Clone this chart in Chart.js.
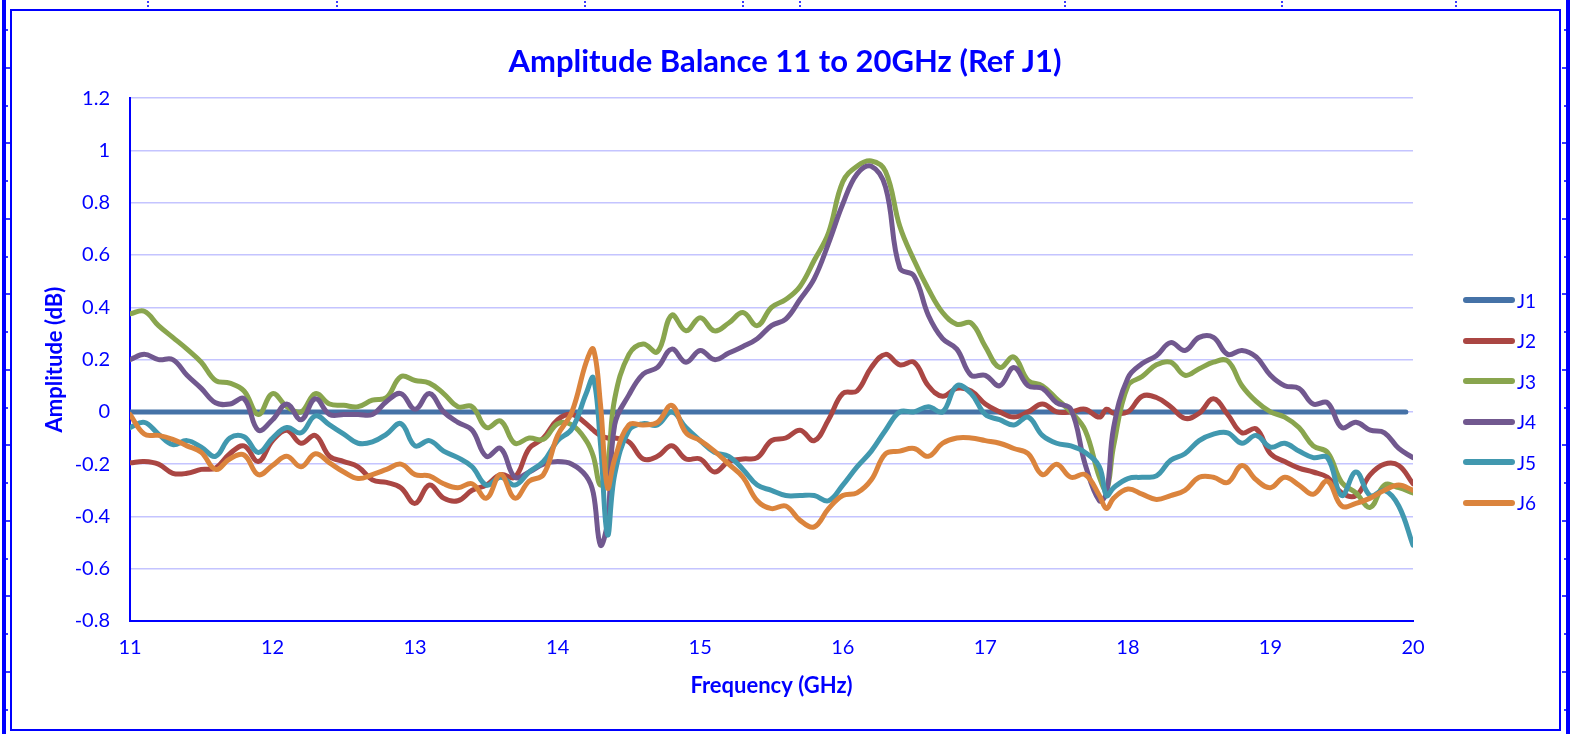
<!DOCTYPE html>
<html>
<head>
<meta charset="utf-8">
<script src="https://cdn.jsdelivr.net/npm/chart.js@4.4.1/dist/chart.umd.min.js"></script>
<style>
body { margin: 0; background: #fff; }
#wrap { position: relative; width: 1570px; height: 734px; overflow: hidden; background: #fff; }
#container { position: absolute; left: 0; top: 0; }
.fr { position: absolute; background: #0000ff; }
.dot { position: absolute; background: #3a3aff; }
#legend { position: absolute; left: 1463px; top: 290px; font-family: Lato; font-size: 19px; color: #0000ff; }
.item { height: 20px; margin-bottom: 20.6px; display: flex; align-items: center; }
.bar { width: 52px; height: 6px; border-radius: 3px; margin-right: 2px; }
</style>
</head>
<body>
<div id="wrap">
<canvas id="container" width="1570" height="734"></canvas>
<div class="fr" style="left:2px;top:0;width:4px;height:734px"></div>
<div class="fr" style="left:10px;top:9px;width:2px;height:722px"></div>
<div class="fr" style="left:10px;top:9px;width:1551px;height:2px"></div>
<div class="fr" style="left:1559px;top:9px;width:2px;height:722px"></div>
<div class="fr" style="left:10px;top:729px;width:1551px;height:2px"></div>
<div class="fr" style="left:1566px;top:0;width:4px;height:734px"></div>
<div id="legend"></div>
</div>
<script>
// frequency points (GHz), shared by J2..J6
var freq = [11, 11.1, 11.2, 11.3, 11.4, 11.5, 11.6, 11.7, 11.8, 11.9,
  12, 12.1, 12.2, 12.3, 12.4, 12.5, 12.6, 12.7, 12.8, 12.9,
  13, 13.1, 13.2, 13.3, 13.4, 13.5, 13.6, 13.7, 13.8, 13.9,
  14, 14.1, 14.2, 14.25, 14.3, 14.35, 14.4, 14.5, 14.6, 14.7, 14.8, 14.9,
  15, 15.1, 15.2, 15.3, 15.4, 15.5, 15.6, 15.7, 15.8, 15.9,
  16, 16.1, 16.2, 16.3, 16.4, 16.5, 16.6, 16.7, 16.8, 16.9,
  17, 17.1, 17.2, 17.3, 17.4, 17.5, 17.6, 17.7, 17.8, 17.85, 17.9,
  18, 18.1, 18.2, 18.3, 18.4, 18.5, 18.6, 18.7, 18.8, 18.9,
  19, 19.1, 19.2, 19.3, 19.4, 19.5, 19.6, 19.7, 19.8, 19.9,
  20];

var j1Freq = [11, 19.95];
var j1 = [0, 0];

var j2 = [-0.195, -0.19, -0.20, -0.235, -0.235, -0.22, -0.215, -0.16, -0.13, -0.19,
  -0.11, -0.07, -0.12, -0.09, -0.17, -0.19, -0.21, -0.26, -0.27, -0.29,
  -0.35, -0.28, -0.33, -0.34, -0.30, -0.28, -0.24, -0.25, -0.14, -0.10,
  -0.03, -0.01, -0.045, -0.07, -0.09, -0.10, -0.10, -0.115, -0.18, -0.17, -0.13, -0.18,
  -0.18, -0.23, -0.19, -0.18, -0.175, -0.11, -0.10, -0.07, -0.11, -0.03,
  0.07, 0.08, 0.17, 0.22, 0.18, 0.19, 0.10, 0.06, 0.09, 0.08,
  0.03, 0.0, -0.02, 0.0, 0.03, 0.0, 0.0, 0.01, -0.02, 0.01, -0.005,
  0.0, 0.06, 0.055, 0.02, -0.025, -0.005, 0.05, -0.01, -0.08, -0.065,
  -0.16, -0.19, -0.215, -0.23, -0.25, -0.31, -0.32, -0.24, -0.20, -0.205,
  -0.275];

var j3 = [0.375, 0.385, 0.33, 0.285, 0.24, 0.19, 0.12, 0.11, 0.08, -0.01,
  0.07, 0.02, 0.0, 0.07, 0.03, 0.025, 0.02, 0.045, 0.055, 0.135,
  0.12, 0.11, 0.07, 0.02, 0.02, -0.06, -0.035, -0.12, -0.10, -0.105,
  -0.045, -0.05, -0.11, -0.17, -0.28, -0.20, 0.05, 0.22, 0.26, 0.23, 0.37, 0.31,
  0.36, 0.31, 0.34, 0.38, 0.33, 0.40, 0.43, 0.48, 0.58, 0.685,
  0.88, 0.94, 0.96, 0.92, 0.71, 0.58, 0.47, 0.38, 0.335, 0.34,
  0.25, 0.17, 0.21, 0.12, 0.10, 0.05, 0.0, -0.07, -0.25, -0.30, -0.13,
  0.10, 0.135, 0.18, 0.19, 0.14, 0.165, 0.19, 0.195, 0.10, 0.04,
  0.0, -0.02, -0.06, -0.13, -0.155, -0.27, -0.31, -0.365, -0.28, -0.29,
  -0.31];

var j4 = [0.20, 0.22, 0.20, 0.20, 0.14, 0.09, 0.035, 0.03, 0.05, -0.07,
  -0.03, 0.03, -0.03, 0.05, -0.01, -0.01, -0.01, -0.01, 0.04, 0.07,
  0.01, 0.07, 0.0, -0.04, -0.07, -0.17, -0.14, -0.25, -0.23, -0.20,
  -0.19, -0.20, -0.245, -0.31, -0.51, -0.42, -0.05, 0.065, 0.145, 0.17, 0.24, 0.19,
  0.235, 0.20, 0.225, 0.25, 0.28, 0.33, 0.355, 0.43, 0.51, 0.645,
  0.795, 0.91, 0.94, 0.86, 0.55, 0.52, 0.37, 0.28, 0.24, 0.14,
  0.14, 0.10, 0.17, 0.10, 0.09, 0.035, 0.01, -0.20, -0.34, -0.31, -0.06,
  0.13, 0.185, 0.215, 0.265, 0.235, 0.285, 0.285, 0.22, 0.235, 0.21,
  0.14, 0.10, 0.09, 0.03, 0.035, -0.06, -0.04, -0.07, -0.08, -0.14,
  -0.175];

var j5 = [-0.06, -0.04, -0.085, -0.125, -0.11, -0.135, -0.17, -0.10, -0.095, -0.155,
  -0.10, -0.06, -0.08, -0.015, -0.05, -0.085, -0.12, -0.115, -0.085, -0.045,
  -0.13, -0.11, -0.15, -0.175, -0.21, -0.28, -0.25, -0.28, -0.23, -0.19,
  -0.11, -0.065, 0.07, 0.13, -0.12, -0.47, -0.24, -0.07, -0.045, -0.05, 0.0, -0.06,
  -0.11, -0.155, -0.17, -0.22, -0.28, -0.30, -0.32, -0.32, -0.32, -0.34,
  -0.28, -0.21, -0.15, -0.07, 0.0, 0.0, 0.02, 0.0, 0.10, 0.07,
  -0.01, -0.03, -0.05, -0.02, -0.09, -0.12, -0.13, -0.155, -0.21, -0.32, -0.29,
  -0.255, -0.25, -0.245, -0.185, -0.16, -0.11, -0.085, -0.08, -0.12, -0.09,
  -0.135, -0.12, -0.15, -0.175, -0.175, -0.32, -0.23, -0.32, -0.30, -0.36,
  -0.51];

var j6 = [-0.01, -0.085, -0.09, -0.105, -0.13, -0.155, -0.22, -0.18, -0.165, -0.24,
  -0.205, -0.17, -0.21, -0.16, -0.195, -0.23, -0.255, -0.24, -0.22, -0.20,
  -0.24, -0.245, -0.275, -0.29, -0.275, -0.33, -0.24, -0.33, -0.265, -0.24,
  -0.09, 0.0, 0.19, 0.24, 0.03, -0.29, -0.18, -0.05, -0.05, -0.04, 0.025, -0.08,
  -0.11, -0.15, -0.20, -0.25, -0.34, -0.37, -0.36, -0.415, -0.44, -0.37,
  -0.32, -0.31, -0.26, -0.16, -0.15, -0.14, -0.17, -0.12, -0.10, -0.10,
  -0.11, -0.12, -0.14, -0.16, -0.24, -0.20, -0.25, -0.24, -0.32, -0.37, -0.33,
  -0.295, -0.315, -0.335, -0.32, -0.30, -0.25, -0.25, -0.27, -0.205, -0.26,
  -0.29, -0.25, -0.28, -0.315, -0.265, -0.36, -0.35, -0.33, -0.30, -0.28,
  -0.30];

var xTicks = [11, 12, 13, 14, 15, 16, 17, 18, 19, 20];
var yTicks = [-0.8, -0.6, -0.4, -0.2, 0, 0.2, 0.4, 0.6, 0.8, 1, 1.2];

var names = ['J1', 'J2', 'J3', 'J4', 'J5', 'J6'];
var colors = ['#4572a7', '#aa4643', '#89a54e', '#71588f', '#4198af', '#db843d'];
var blue = '#0000ff';

function pts(xs, ys) {
  return xs.map(function(x, i) { return {x: x, y: ys[i]}; });
}

var series = [pts(j1Freq, j1), pts(freq, j2), pts(freq, j3), pts(freq, j4), pts(freq, j5), pts(freq, j6)];

var datasets = series.map(function(d, i) {
  return {
    label: names[i],
    data: d,
    borderColor: colors[i],
    backgroundColor: colors[i],
    order: 6 - i
  };
});

// little ruler marks on the frame
var wrap = document.getElementById('wrap');
function mark(x, y, w, h) {
  var m = document.createElement('div');
  m.className = 'dot';
  m.style.left = x + 'px'; m.style.top = y + 'px';
  m.style.width = w + 'px'; m.style.height = h + 'px';
  wrap.appendChild(m);
}
var topMarks = [148, 337, 585, 743, 800, 1065, 1282, 1456];
topMarks.forEach(function(x) { mark(x - 1, 1, 2, 2); mark(x - 1, 5, 2, 2); });
for (var k = 0; k < 19; k++) {
  var yy = Math.round(29 + k * 37.75);
  var w = (k % 2 == 1) ? 4 : 2;
  mark(6, yy, w, 2);
  mark(1565 - w + 1, yy, w, 2);
}

// legend
var legend = document.getElementById('legend');
names.forEach(function(n, i) {
  var it = document.createElement('div');
  it.className = 'item';
  it.innerHTML = '<div class="bar" style="background:' + colors[i] + '"></div><span>' + n + '</span>';
  legend.appendChild(it);
});

var ctx = document.getElementById('container');
var chart = new Chart(ctx, {
  type: 'line',
  data: { datasets: datasets },
  options: {
    responsive: false,
    animation: false,
    devicePixelRatio: 1,
    layout: { padding: 0 },
    elements: {
      point: { radius: 0 },
      line: { tension: 0.4, borderWidth: 5, borderCapStyle: 'round', borderJoinStyle: 'round' }
    },
    plugins: {
      legend: { display: false },
      tooltip: { enabled: false },
      title: {
        display: true,
        text: 'Amplitude Balance 11 to 20GHz (Ref J1)',
        color: blue,
        font: { family: 'Lato', size: 31, weight: 'bold', lineHeight: 1.2 },
        padding: { top: 43, bottom: 18 }
      }
    },
    scales: {
      x: {
        type: 'linear',
        min: 11,
        max: 20,
        afterBuildTicks: function(s) { s.ticks = xTicks.map(function(v) { return {value: v}; }); },
        afterFit: function(s) { s.height = 113; },
        grid: { display: false, drawTicks: false },
        border: { color: blue, width: 2 },
        ticks: { color: blue, font: { family: 'Lato', size: 20 }, padding: 15, maxRotation: 0 },
        title: {
          display: true,
          text: 'Frequency (GHz)',
          color: blue,
          font: { family: 'Lato', size: 22, weight: 'bold', lineHeight: 1.2 },
          padding: { top: 0, bottom: 35 }
        }
      },
      y: {
        type: 'linear',
        min: -0.8,
        max: 1.2,
        afterBuildTicks: function(s) { s.ticks = yTicks.map(function(v) { return {value: v}; }); },
        afterFit: function(s) { s.width = 130; },
        grid: { color: '#c4c4ff', lineWidth: 1.5, drawTicks: false },
        border: { color: blue, width: 2 },
        ticks: {
          color: blue,
          font: { family: 'Lato', size: 20 },
          padding: 20,
          callback: function(v) { return String(Math.round(v * 10) / 10); }
        },
        title: {
          display: true,
          text: 'Amplitude (dB)',
          color: blue,
          font: { family: 'Lato', size: 22, weight: 'bold', lineHeight: 1.2 },
          padding: { top: 42, bottom: 0 }
        }
      },
      pad: {
        type: 'linear',
        position: 'right',
        display: true,
        grid: { display: false, drawTicks: false },
        border: { display: false },
        ticks: { display: false },
        afterFit: function(s) { s.width = 157; }
      }
    }
  }
});
</script>
</body>
</html>
